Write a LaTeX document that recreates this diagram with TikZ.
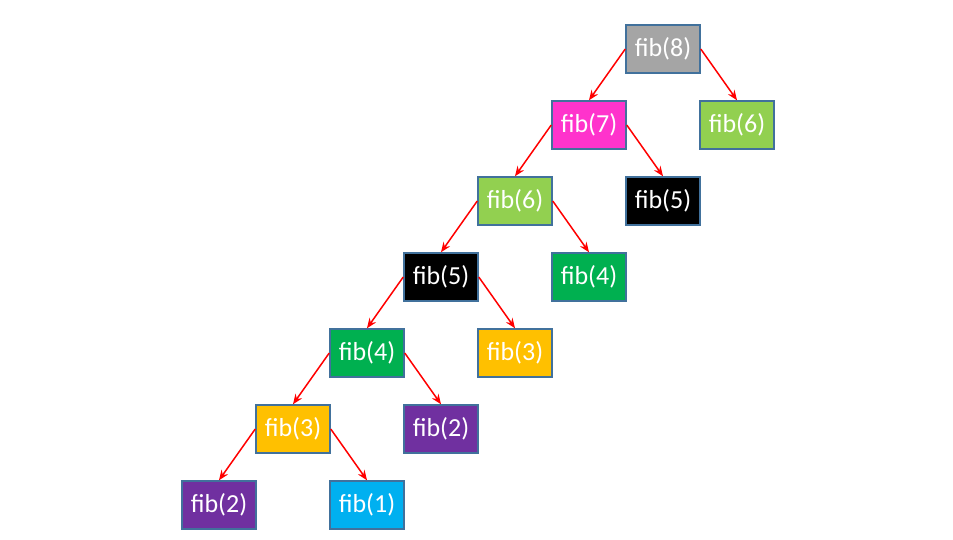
\documentclass[tikz,border=0pt]{standalone}
\usepackage{fontspec}
\setmainfont{Carlito}
\usepackage{tikz}
\usetikzlibrary{arrows.meta}
\definecolor{boxline}{RGB}{65,113,156}
\definecolor{fibgray}{RGB}{165,165,165}
\definecolor{fibpink}{RGB}{255,51,204}
\definecolor{fiblime}{RGB}{146,208,80}
\definecolor{fibgreen}{RGB}{0,176,80}
\definecolor{fibgold}{RGB}{255,192,0}
\definecolor{fibpurple}{RGB}{112,48,160}
\definecolor{fibcyan}{RGB}{0,176,240}
\tikzset{fibbox/.style={draw=boxline,line width=1.5pt,minimum width=74pt,minimum height=48pt,
  inner sep=0pt,text=white,font=\fontsize{26}{26}\selectfont}}

\begin{document}
\begin{tikzpicture}[x=1pt,y=-1pt,>={Stealth[length=10pt,width=8pt]}]
   \useasboundingbox[fill=white] (0,0) rectangle (953,539);
   % main chain
   \node (f8) at (663,49) [fibbox,fill=fibgray] {fib(8)};
   \node (f7) at (589,125) [fibbox,fill=fibpink] {fib(7)};
   \node (f6) at (515,201) [fibbox,fill=fiblime] {fib(6)};
   \node (f5) at (441,277) [fibbox,fill=black] {fib(5)};
   \node (f4) at (367,353) [fibbox,fill=fibgreen] {fib(4)};
   \node (f3) at (293,429) [fibbox,fill=fibgold] {fib(3)};
   \node (f2) at (219,505) [fibbox,fill=fibpurple] {fib(2)};
   % right children
   \node (r6) at (737,125) [fibbox,fill=fiblime] {fib(6)};
   \node (r5) at (663,201) [fibbox,fill=black] {fib(5)};
   \node (r4) at (589,277) [fibbox,fill=fibgreen] {fib(4)};
   \node (r3) at (515,353) [fibbox,fill=fibgold] {fib(3)};
   \node (r2) at (441,429) [fibbox,fill=fibpurple] {fib(2)};
   \node (r1) at (367,505) [fibbox,fill=fibcyan] {fib(1)};
   \draw[->,red,line width=1.5pt] (f8.west) -- (f7.north);
   \draw[->,red,line width=1.5pt] (f8.east) -- (r6.north);
   \draw[->,red,line width=1.5pt] (f7.west) -- (f6.north);
   \draw[->,red,line width=1.5pt] (f7.east) -- (r5.north);
   \draw[->,red,line width=1.5pt] (f6.west) -- (f5.north);
   \draw[->,red,line width=1.5pt] (f6.east) -- (r4.north);
   \draw[->,red,line width=1.5pt] (f5.west) -- (f4.north);
   \draw[->,red,line width=1.5pt] (f5.east) -- (r3.north);
   \draw[->,red,line width=1.5pt] (f4.west) -- (f3.north);
   \draw[->,red,line width=1.5pt] (f4.east) -- (r2.north);
   \draw[->,red,line width=1.5pt] (f3.west) -- (f2.north);
   \draw[->,red,line width=1.5pt] (f3.east) -- (r1.north);
\end{tikzpicture}
\end{document}
